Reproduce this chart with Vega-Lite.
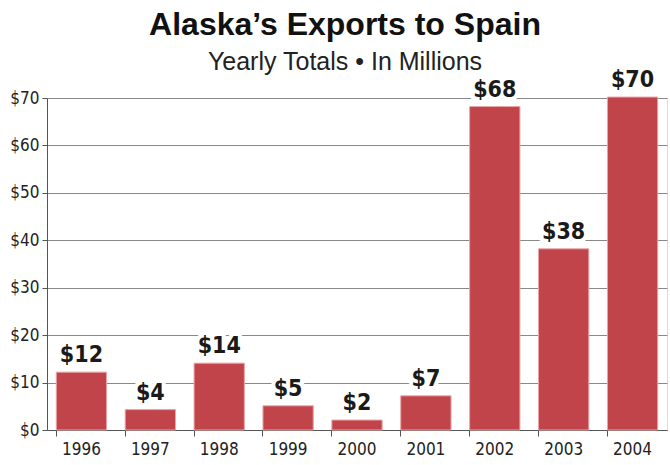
{
  "$schema": "https://vega.github.io/schema/vega-lite/v6.json",
  "width": 620,
  "height": 332,
  "autosize": {"type": "none"},
  "padding": {"top": 98, "left": 47, "right": 3, "bottom": 35},
  "background": "white",
  "title": {
    "text": "Alaska’s Exports to Spain",
    "subtitle": "Yearly Totals • In Millions",
    "font": "Liberation Sans",
    "fontSize": 32,
    "fontWeight": "bold",
    "color": "#111",
    "subtitleFont": "Liberation Sans",
    "subtitleFontSize": 25,
    "subtitleColor": "#222",
    "subtitlePadding": 8,
    "anchor": "middle",
    "frame": "group",
    "dx": -12,
    "offset": -7
  },
  "data": {
    "values": [
      {"year": "1996", "value": 12.2, "label": "$12"},
      {"year": "1997", "value": 4.3, "label": "$4"},
      {"year": "1998", "value": 14.1, "label": "$14"},
      {"year": "1999", "value": 5.1, "label": "$5"},
      {"year": "2000", "value": 2.1, "label": "$2"},
      {"year": "2001", "value": 7.2, "label": "$7"},
      {"year": "2002", "value": 68.2, "label": "$68"},
      {"year": "2003", "value": 38.2, "label": "$38"},
      {"year": "2004", "value": 70.2, "label": "$70"}
    ]
  },
  "encoding": {
    "x": {
      "field": "year",
      "type": "nominal",
      "sort": null,
      "title": null,
      "scale": {"paddingInner": 0.27, "paddingOuter": 0.135},
      "axis": {
        "bandPosition": 0,
        "labelAngle": 0,
        "labelFont": "DejaVu Sans Condensed",
        "labelFontSize": 17,
        "labelColor": "#222",
        "labelPadding": 5,
        "tickSize": 6,
        "tickColor": "#555",
        "domainColor": "#555",
        "grid": false
      }
    },
    "y": {
      "field": "value",
      "type": "quantitative",
      "title": null,
      "scale": {"domain": [0, 70], "nice": false},
      "axis": {
        "values": [0, 10, 20, 30, 40, 50, 60, 70],
        "labelExpr": "'$' + datum.value",
        "labelFont": "DejaVu Sans Condensed",
        "labelFontSize": 17,
        "labelColor": "#222",
        "labelPadding": 3,
        "tickSize": 5,
        "tickColor": "#555",
        "domainColor": "#555",
        "grid": true,
        "gridColor": "#888",
        "gridOpacity": 1
      }
    }
  },
  "layer": [
    {
      "mark": {"type": "bar", "color": "#c1444a", "stroke": "#eaa5a5", "strokeWidth": 1}
    },
    {
      "mark": {
        "type": "text",
        "font": "DejaVu Sans Condensed",
        "fontSize": 23,
        "fontWeight": "bold",
        "baseline": "alphabetic",
        "dy": -10,
        "stroke": "white",
        "strokeWidth": 8,
        "fill": "white"
      },
      "encoding": {"text": {"field": "label"}}
    },
    {
      "mark": {
        "type": "text",
        "font": "DejaVu Sans Condensed",
        "fontSize": 23,
        "fontWeight": "bold",
        "baseline": "alphabetic",
        "dy": -10,
        "color": "#1a1a1a"
      },
      "encoding": {"text": {"field": "label"}}
    }
  ]
}
